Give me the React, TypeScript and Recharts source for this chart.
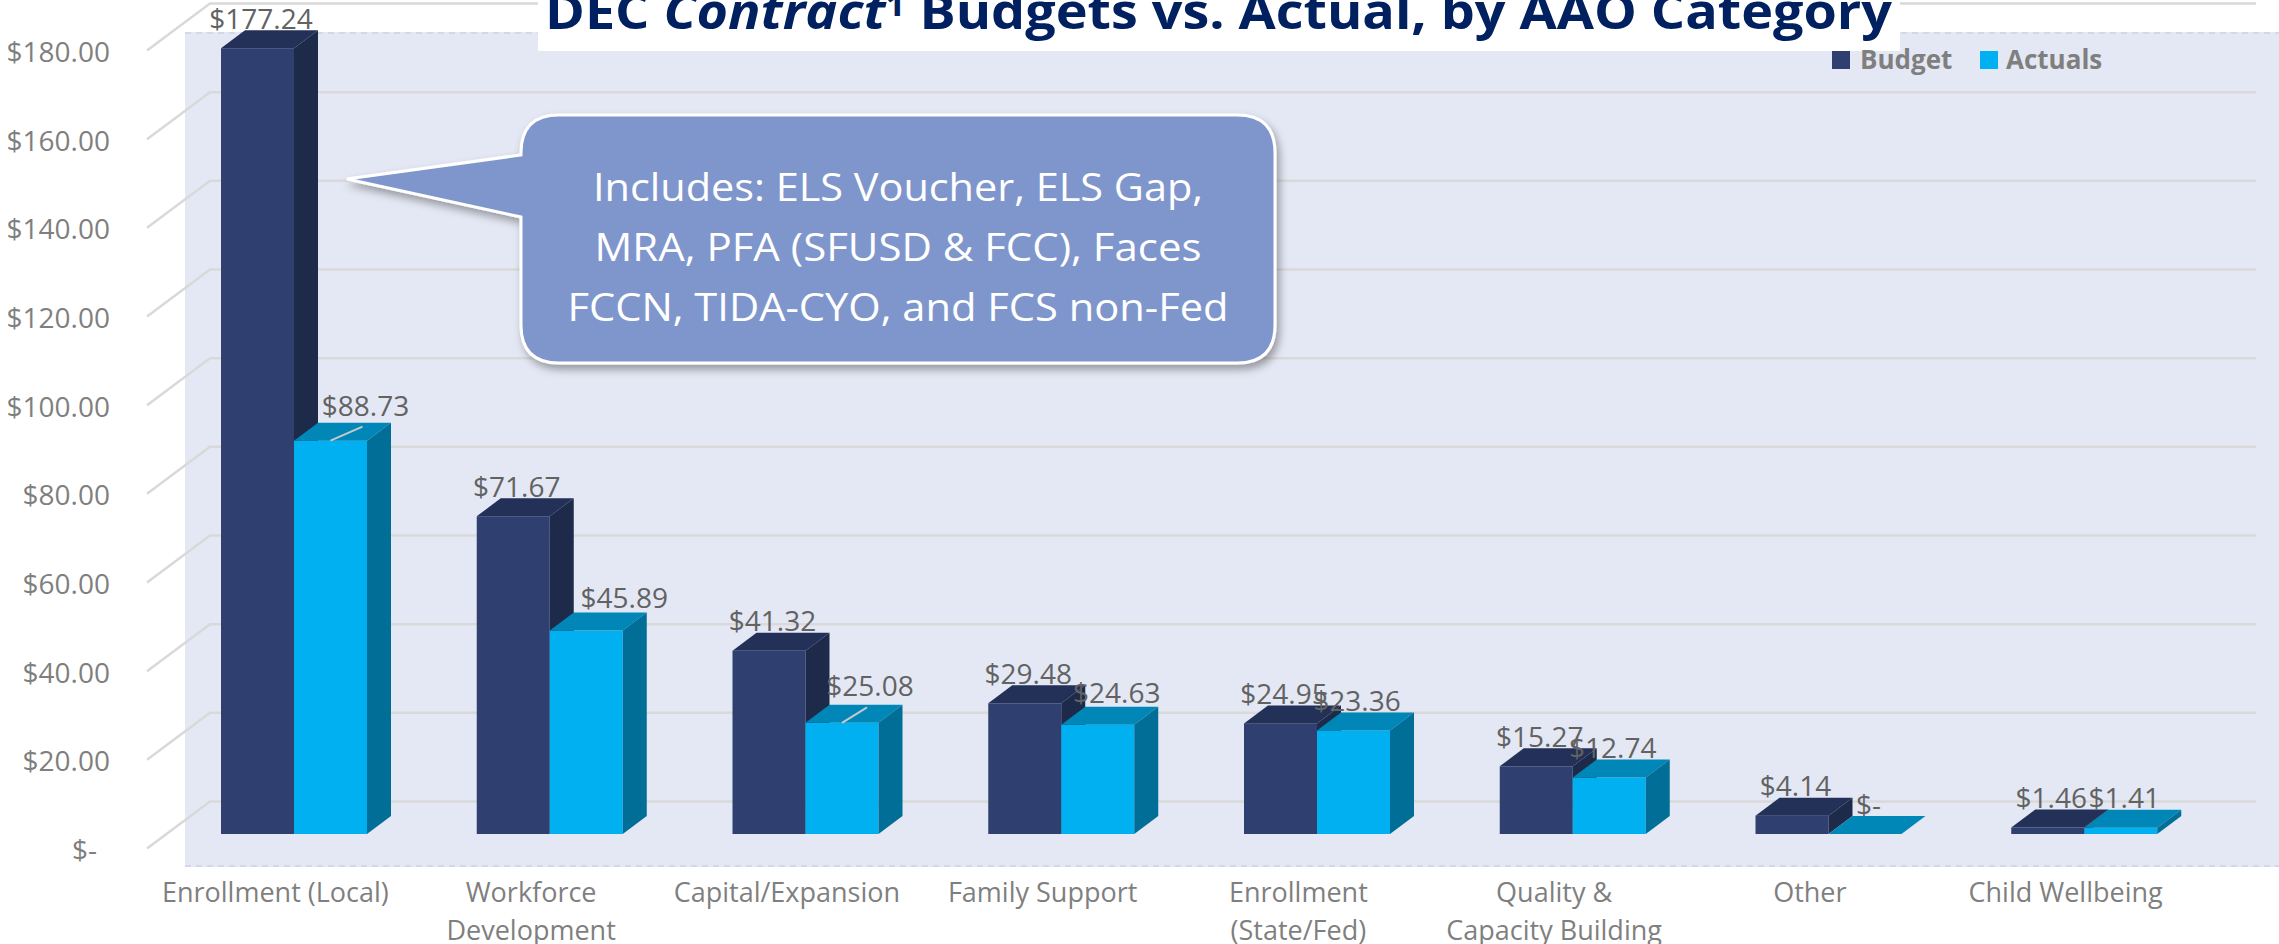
import React from 'react';
import { BarChart, Bar, XAxis, YAxis, CartesianGrid, LabelList } from 'recharts';

// ---------- data ----------
const categories = [
  'Enrollment (Local)',
  'Workforce\nDevelopment',
  'Capital/Expansion',
  'Family Support',
  'Enrollment\n(State/Fed)',
  'Quality &\nCapacity Building',
  'Other',
  'Child Wellbeing',
];
const budget = [177.24, 71.67, 41.32, 29.48, 24.95, 15.27, 4.14, 1.46];
const actuals = [88.73, 45.89, 25.08, 24.63, 23.36, 12.74, 0, 1.41];
const yTicks = [0, 20, 40, 60, 80, 100, 120, 140, 160, 180];
const calloutLines = [
  'Includes: ELS Voucher, ELS Gap,',
  'MRA, PFA (SFUSD & FCC), Faces',
  'FCCN, TIDA-CYO, and FCS non-Fed',
];

const tableData = categories.map((c, i) => ({ name: c, Budget: budget[i], Actuals: actuals[i] }));

// ---------- style / layout ----------
const W = 2279;
const H = 944;
const DX = 24;
const DY = -18;
const FONT = '"Open Sans", "Noto Sans", sans-serif';
const BUDGET = { front: '#2F3F70', top: '#233158', side: '#1D2A4A' };
const ACTUAL = { front: '#00B0F0', top: '#0087B7', side: '#006E96' };
// label nudges (Excel moved some labels manually)
const ACTUAL_NUDGE: Array<[number, number, boolean]> = [
  [31.5, -5.5, true],
  [34.5, -3.5, false],
  [24.5, -7, true],
  [15.5, -2.5, false],
  [0, 0, false],
  [0, 0, false],
  [0, 0, false],
  [0, 0, false],
];

const money = (v: number) => (v === 0 ? '$-' : '$' + v.toFixed(2));

const make3D = (c: { front: string; top: string; side: string }) => (props: any) => {
  const x = Number(props.x);
  const y = Number(props.y);
  const w = Number(props.width);
  const h = Math.max(Number(props.height) || 0, 0);
  return (
    <g>
      <rect x={x} y={y} width={w} height={h} fill={c.front} />
      <polygon points={`${x},${y} ${x + DX},${y + DY} ${x + w + DX},${y + DY} ${x + w},${y}`} fill={c.top} />
      <polygon
        points={`${x + w},${y} ${x + w + DX},${y + DY} ${x + w + DX},${y + h + DY} ${x + w},${y + h}`}
        fill={c.side}
      />
    </g>
  );
};

const makeLabel = (isActual: boolean) => (props: any) => {
  const vb = props.viewBox || {};
  const x = Number(props.x ?? vb.x);
  const y = Number(props.y ?? vb.y);
  const w = Number(props.width ?? vb.width);
  const idx = Number(props.index);
  const v = Number(props.value);
  const nud = isActual ? ACTUAL_NUDGE[idx] || [0, 0, false] : [0, 0, false];
  const cx = x + w / 2 + 3.5 + nud[0];
  const cy = y - 29.5 + nud[1];
  return (
    <g>
      {nud[2] ? (
        <line x1={x + w / 2} y1={y} x2={cx - 3} y2={cy + 21} stroke="#C8C8C8" strokeWidth={2} />
      ) : null}
      <text
        x={cx}
        y={cy}
        dy="0.36em"
        textAnchor="middle"
        fontFamily={FONT}
        fontSize={28}
        fill="#626262"
      >
        {money(v)}
      </text>
    </g>
  );
};

const XTick = (props: any) => {
  const { x, y, payload } = props;
  const lines = String(payload.value).split('\n');
  return (
    <g>
      {lines.map((l, i) => (
        <text
          key={i}
          x={x - 18.5}
          y={y + 68 + i * 38}
          textAnchor="middle"
          fontFamily={FONT}
          fontSize={27}
          fill="#7F7F7F"
        >
          {l}
        </text>
      ))}
    </g>
  );
};

const YTick = (props: any) => {
  const { x, y, payload } = props;
  const v = Number(payload.value);
  return (
    <text
      x={v === 0 ? x - 69 : x - 56}
      y={y + 16}
      dy="0.36em"
      textAnchor="end"
      fontFamily={FONT}
      fontSize={28}
      fill="#7F7F7F"
    >
      {money(v)}
    </text>
  );
};

const gridLine = (p: any) => {
  const by = Number(p.y1) - 32.5;
  const x1 = Number(p.x1);
  const x2 = Number(p.x2);
  return (
    <polyline
      key={`g-${p.index}-${by}`}
      points={`${x1 - 19},${by + 47} ${x1 + 44},${by} ${x2 + 44},${by}`}
      fill="none"
      stroke="#D9D9D9"
      strokeWidth={2.5}
    />
  );
};

const r = 38;
const bx0 = 521, bx1 = 1275, by0 = 115, by1 = 363;
const calloutPath =
  `M ${bx0 + r} ${by0} L ${bx1 - r} ${by0} Q ${bx1} ${by0} ${bx1} ${by0 + r} ` +
  `L ${bx1} ${by1 - r} Q ${bx1} ${by1} ${bx1 - r} ${by1} L ${bx0 + r} ${by1} ` +
  `Q ${bx0} ${by1} ${bx0} ${by1 - r} L ${bx0} 217 L 347 179 L ${bx0} 155 L ${bx0} ${by0 + r} ` +
  `Q ${bx0} ${by0} ${bx0 + r} ${by0} Z`;

export default function App() {
  return (
    <div style={{ position: 'absolute', left: 0, top: 0, width: W, height: H, background: '#fff', overflow: 'hidden' }}>
      <svg width={W} height={H} style={{ position: 'absolute', left: 0, top: 0 }}>
        <rect x={185} y={32} width={W - 185} height={835} fill="#E4E8F4" />
        <line x1={185} y1={33} x2={W} y2={33} stroke="#D3D8E8" strokeWidth={2} strokeDasharray="6 5" />
        <line x1={185} y1={866} x2={W} y2={866} stroke="#D3D8E8" strokeWidth={2} strokeDasharray="6 5" />
      </svg>
      <div style={{ position: 'absolute', left: 0, top: 0 }}>
        <BarChart
          width={W}
          height={H}
          data={tableData}
          margin={{ top: 36, right: 67, left: 0, bottom: 0 }}
          barGap={0}
          barSize={73}
        >
          <CartesianGrid vertical={false} horizontal={gridLine} />
          <XAxis
            dataKey="name"
            height={110}
            axisLine={false}
            tickLine={false}
            tickSize={0}
            tickMargin={0}
            interval={0}
            tick={<XTick />}
          />
          <YAxis
            width={166}
            domain={[0, 180]}
            ticks={yTicks}
            axisLine={false}
            tickLine={false}
            tickSize={0}
            tickMargin={0}
            interval={0}
            tick={<YTick />}
          />
          <Bar dataKey="Budget" isAnimationActive={false} shape={make3D(BUDGET)}>
            <LabelList dataKey="Budget" content={makeLabel(false)} />
          </Bar>
          <Bar dataKey="Actuals" isAnimationActive={false} shape={make3D(ACTUAL)}>
            <LabelList dataKey="Actuals" content={makeLabel(true)} />
          </Bar>
        </BarChart>
      </div>
      <svg width={W} height={H} style={{ position: 'absolute', left: 0, top: 0, pointerEvents: 'none' }}>
        <defs>
          <filter id="sh" x="-10%" y="-10%" width="130%" height="140%">
            <feDropShadow dx="3" dy="5" stdDeviation="4" floodColor="#000" floodOpacity="0.35" />
          </filter>
        </defs>
        {/* title */}
        <rect x={538} y={0} width={1362} height={51} fill="#fff" />
        <text
          x={545}
          y={29}
          fontFamily={FONT}
          fontWeight="bold"
          fontSize={48}
          fill="#002060"
          textLength={1347}
          lengthAdjust="spacingAndGlyphs"
        >
          <tspan>DEC </tspan>
          <tspan fontStyle="italic">Contract</tspan>
          <tspan fontSize={31} dy={-13}>1</tspan>
          <tspan dy={13}> Budgets vs. Actual, by AAO Category</tspan>
        </text>
        {/* legend */}
        <rect x={1832} y={51} width={18} height={18} fill={BUDGET.front} />
        <text x={1860} y={69} fontFamily={FONT} fontWeight="bold" fontSize={26} fill="#7F7F7F">Budget</text>
        <rect x={1980} y={51} width={18} height={18} fill={ACTUAL.front} />
        <text x={2006} y={69} fontFamily={FONT} fontWeight="bold" fontSize={26} fill="#7F7F7F">Actuals</text>
        {/* callout */}
        <path d={calloutPath} fill="#7F96CD" stroke="#FFFFFF" strokeWidth={3} filter="url(#sh)" />
        {calloutLines.map((l, i) => (
          <text
            key={i}
            x={898}
            y={201 + i * 60}
            textAnchor="middle"
            fontFamily={FONT}
            fontSize={39}
            fill="#FFFFFF"
            textLength={[610, 607, 661][i]}
            lengthAdjust="spacingAndGlyphs"
          >
            {l}
          </text>
        ))}
      </svg>
    </div>
  );
}
